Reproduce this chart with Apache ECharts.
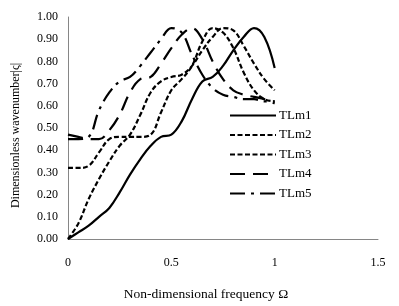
<!DOCTYPE html>
<html>
<head>
<meta charset="utf-8">
<script src="https://cdn.jsdelivr.net/npm/echarts@6/dist/echarts.min.js"></script>
<style>
  html, body { margin: 0; padding: 0; background: #fff; }
  #box { width: 399px; height: 306px; }
</style>
</head>
<body>
<div id="box"></div>
<script>
// non-dimensional frequency, sampled every 0.05
const freq = [0, 0.05, 0.1, 0.15, 0.2, 0.25, 0.3, 0.35, 0.4, 0.45, 0.5,
              0.55, 0.6, 0.65, 0.7, 0.75, 0.8, 0.85, 0.9, 0.95, 1.0]

const tlm1 = [0, 0.03, 0.06, 0.10, 0.14, 0.21, 0.29, 0.36, 0.42, 0.46, 0.47,
              0.53, 0.63, 0.71, 0.73, 0.78, 0.85, 0.91, 0.95, 0.91, 0.77]
const tlm2 = [0, 0.07, 0.18, 0.27, 0.35, 0.42, 0.47, 0.56, 0.66, 0.71, 0.73,
              0.74, 0.78, 0.85, 0.91, 0.95, 0.94, 0.87, 0.79, 0.72, 0.67]
const tlm3 = [0.32, 0.32, 0.33, 0.39, 0.45, 0.46, 0.46, 0.46, 0.47, 0.57, 0.67,
              0.72, 0.78, 0.89, 0.95, 0.93, 0.86, 0.75, 0.67, 0.63, 0.62]
const tlm4 = [0.47, 0.46, 0.45, 0.45, 0.49, 0.56, 0.66, 0.72, 0.73, 0.79, 0.86,
              0.92, 0.95, 0.90, 0.80, 0.72, 0.67, 0.65, 0.64, 0.63, 0.61]
const tlm5 = [0.45, 0.45, 0.46, 0.58, 0.66, 0.71, 0.73, 0.78, 0.84, 0.90, 0.95,
              0.93, 0.83, 0.74, 0.68, 0.65, 0.64, 0.63, 0.63, 0.62, 0.62]

const names = ["TLm1", "TLm2", "TLm3", "TLm4", "TLm5"]
const values = [tlm1, tlm2, tlm3, tlm4, tlm5]
const dashes = ["solid", [5, 2.5], [5, 2.5], [15, 8], [15, 6, 3, 6]]

const FONT = "Liberation Serif"

let myChart = echarts.init(document.getElementById("box"), null, {renderer: "canvas"})

let series = names.map((name, i) => ({
    name: name,
    type: "line",
    smooth: 0.4,
    symbol: "none",
    data: freq.map((x, j) => [x, values[i][j]]),
    lineStyle: {color: "#000", width: 2.2, type: dashes[i]},
    itemStyle: {color: "#000"}
}))

let option = {
    animation: false,
    backgroundColor: "#fff",
    grid: {left: 68, right: 21, top: 17, bottom: 64},
    legend: {
        orient: "vertical",
        left: 224,
        top: 104,
        itemWidth: 46,
        itemHeight: 12,
        itemGap: 6.5,
        itemStyle: {opacity: 0},      // 只保留线型，不显示圆点
        textStyle: {fontFamily: FONT, fontSize: 13, color: "#000", padding: [0, 0, 0, -2]},
        data: names
    },
    xAxis: {
        type: "value",
        min: 0, max: 1.5, interval: 0.5,
        name: "Non-dimensional frequency Ω",
        nameLocation: "middle",
        nameGap: 48,
        nameTextStyle: {fontFamily: FONT, fontSize: 13.5, color: "#000", padding: [0, 34, 0, 0]},
        axisLine: {lineStyle: {color: "#868686"}},
        axisTick: {show: false},
        splitLine: {show: false},
        axisLabel: {margin: 18, fontFamily: FONT, fontSize: 12, color: "#000"}
    },
    yAxis: {
        type: "value",
        min: 0, max: 1, interval: 0.1,
        name: "Dimensionless wavenumber|ς|",
        nameLocation: "middle",
        nameGap: 46,
        nameTextStyle: {fontFamily: FONT, fontSize: 12, color: "#000", padding: [0, 15, 0, 0]},
        axisLine: {show: true, lineStyle: {color: "#868686"}},
        axisTick: {show: false},
        splitLine: {show: false},
        axisLabel: {margin: 10, fontFamily: FONT, fontSize: 12, color: "#000",
                    formatter: v => v.toFixed(2)}
    },
    series: series
}

myChart.setOption(option)
</script>
</body>
</html>
